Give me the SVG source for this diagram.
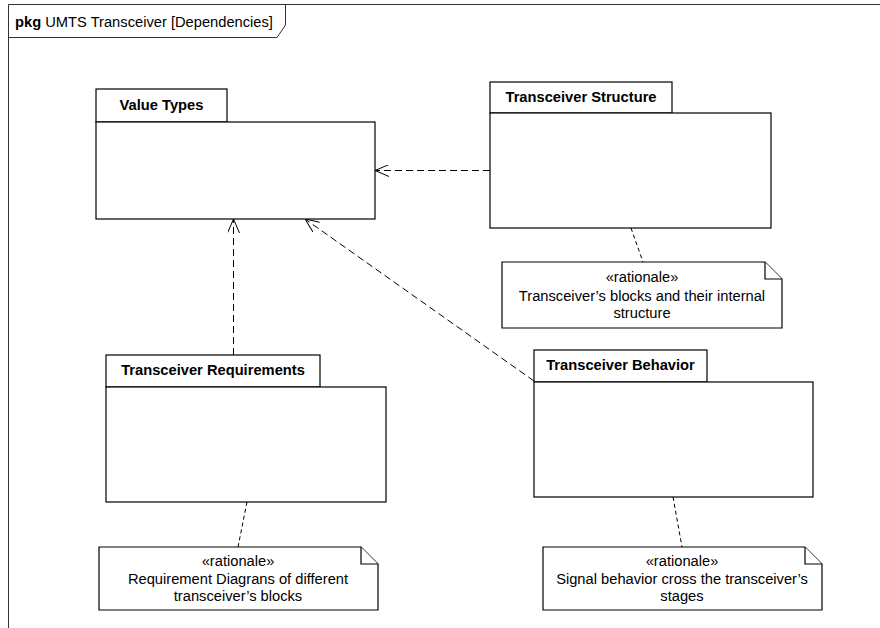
<svg xmlns="http://www.w3.org/2000/svg" width="880" height="628" viewBox="0 0 880 628">
  <style>
    .ln { fill: #fff; stroke: #000; stroke-width: 1.2; }
    .frame { fill: none; stroke: #333; stroke-width: 1; }
    .dep { fill: none; stroke: #000; stroke-width: 1; stroke-dasharray: 7 4; }
    .anc { fill: none; stroke: #000; stroke-width: 1; stroke-dasharray: 4 3; }
    .pkgname { font-family: "Liberation Sans", Arial, sans-serif; font-size: 14.7px; font-weight: bold; text-anchor: middle; }
    .note { font-family: "Liberation Sans", Arial, sans-serif; font-size: 14.7px; text-anchor: middle; }
    .title { font-family: "Liberation Sans", Arial, sans-serif; font-size: 14.7px; }
  </style>
  <defs>
    <marker id="open" viewBox="0 0 14 12" refX="14" refY="6" markerWidth="14" markerHeight="12" markerUnits="userSpaceOnUse" orient="auto">
      <path d="M0,0 L14,6 L0,12" fill="none" stroke="#000" stroke-width="1"/>
    </marker>
  </defs>

  <rect width="880" height="628" fill="#fff"/>

  <!-- diagram frame -->
  <g id="frame">
    <path class="frame" d="M8.5,640 L8.5,4.5 L880,4.5"/>
    <path class="frame" d="M8.5,37.5 L277,37.5 L285.5,25 L285.5,4.5"/>
    <text class="title" x="15" y="26.5"><tspan font-weight="bold">pkg</tspan> UMTS Transceiver [Dependencies]</text>
  </g>

  <!-- connectors -->
  <g id="connectors">
    <line class="dep" x1="490" y1="170.5" x2="375" y2="170.5" marker-end="url(#open)"/>
    <line class="dep" x1="233.5" y1="355" x2="233.5" y2="219" marker-end="url(#open)"/>
    <line class="dep" x1="534" y1="381" x2="305" y2="219" marker-end="url(#open)"/>
    <line class="anc" x1="631" y1="228" x2="643" y2="262"/>
    <line class="anc" x1="247" y1="502" x2="238" y2="547"/>
    <line class="anc" x1="673" y1="497" x2="682" y2="547"/>
  </g>

  <!-- packages -->
  <g id="value-types">
    <rect class="ln" x="96" y="89" width="131" height="33"/>
    <rect class="ln" x="96" y="122" width="279" height="97"/>
    <text class="pkgname" x="161.5" y="110">Value Types</text>
  </g>

  <g id="transceiver-structure">
    <rect class="ln" x="490" y="82" width="182" height="31"/>
    <rect class="ln" x="490" y="113" width="281" height="115"/>
    <text class="pkgname" x="581" y="102">Transceiver Structure</text>
  </g>

  <g id="transceiver-requirements">
    <rect class="ln" x="106" y="355" width="214" height="32"/>
    <rect class="ln" x="106" y="387" width="280" height="115"/>
    <text class="pkgname" x="213" y="375">Transceiver Requirements</text>
  </g>

  <g id="transceiver-behavior">
    <rect class="ln" x="534" y="350" width="173" height="32"/>
    <rect class="ln" x="534" y="382" width="279" height="115"/>
    <text class="pkgname" x="620.5" y="370">Transceiver Behavior</text>
  </g>

  <!-- rationale notes -->
  <g id="note-structure">
    <path class="ln" d="M502,262 L765,262 L782,279 L782,328 L502,328 Z"/>
    <path class="ln" d="M765,262 L765,279 L782,279" fill="none"/>
    <text class="note" x="642" y="282">«rationale»</text>
    <text class="note" x="642" y="301">Transceiver’s blocks and their internal</text>
    <text class="note" x="642" y="318">structure</text>
  </g>

  <g id="note-requirements">
    <path class="ln" d="M99,547 L361,547 L378,564 L378,610 L99,610 Z"/>
    <path class="ln" d="M361,547 L361,564 L378,564" fill="none"/>
    <text class="note" x="238" y="566">«rationale»</text>
    <text class="note" x="238" y="584">Requirement Diagrans of different</text>
    <text class="note" x="238" y="601">transceiver’s blocks</text>
  </g>

  <g id="note-behavior">
    <path class="ln" d="M543,547 L805,547 L822,564 L822,610 L543,610 Z"/>
    <path class="ln" d="M805,547 L805,564 L822,564" fill="none"/>
    <text class="note" x="682" y="566">«rationale»</text>
    <text class="note" x="682" y="584">Signal behavior cross the transceiver’s</text>
    <text class="note" x="682" y="601">stages</text>
  </g>
</svg>
